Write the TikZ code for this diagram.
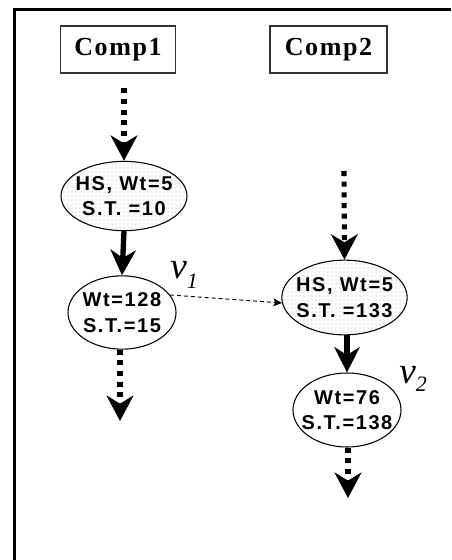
\documentclass[tikz,border=0pt]{standalone}
\usepackage{fontspec}
\setmainfont{Liberation Serif}
\newfontfamily\nodefont{Liberation Sans}[LetterSpace=8]
\newfontfamily\compfont{Liberation Serif}[LetterSpace=6]
\usetikzlibrary{arrows.meta,shapes.geometric,patterns}
% a centred text line that does not widen the ellipse around it
\newcommand{\ctext}[1]{\makebox[0pt]{#1}}
\begin{document}
\begin{tikzpicture}[x=0.75pt,y=-0.75pt,
  frame/.style={line width=2.6pt},
  compbox/.style={draw=black!80,line width=1.1pt,minimum width=86pt,minimum height=35pt,
    inner sep=0pt,font=\compfont\bfseries\fontsize{19.5}{20}\selectfont},
  task/.style={ellipse,draw,line width=0.8pt,inner sep=0pt,align=center,
    font=\nodefont\bfseries\fontsize{15}{19}\selectfont},
  hsnode/.style={task,pattern=dots,pattern color=black!30},
  plainnode/.style={task,fill=white},
  dotarrow/.style={line width=3.8pt,dash pattern=on 3.8pt off 4.2pt,
    -{Stealth[length=19pt,width=20pt,inset=6pt]}},
  solidarrow/.style={line width=4pt,-{Stealth[length=19pt,width=19pt,inset=6pt]}},
  thinarrow/.style={line width=0.7pt,dash pattern=on 3pt off 2.2pt,
    -{Stealth[length=6.5pt,width=6pt,inset=1.5pt]}},
  vlabel/.style={inner sep=0pt,anchor=base west,font=\itshape\fontsize{28}{28}\selectfont}]
\useasboundingbox (0,0) rectangle (451,560);

% outer frame: top and left edges only
\draw[frame] (451,9.5) -- (14.5,9.5) -- (14.5,560);

% component headers
\node[compbox] (comp1) at (118,49.5) {Comp1};
\node[compbox,minimum width=88pt] (comp2) at (328.5,49.5) {Comp2};

% tasks on Comp1
\node[hsnode,minimum width=94.5pt,minimum height=52pt] (e1) at (124,196)
  {\ctext{HS, Wt=5}\\\ctext{S.T. =10}};
\node[plainnode,minimum width=81pt,minimum height=55pt] (e2) at (122,312.5)
  {\ctext{Wt=128}\\\ctext{S.T.=15}};

% tasks on Comp2
\node[hsnode,minimum width=94pt,minimum height=56pt] (e3) at (344.5,297.5)
  {\ctext{HS, Wt=5}\\\ctext{S.T. =133}};
\node[plainnode,minimum width=81pt,minimum height=55.5pt] (e4) at (347,410)
  {\ctext{Wt=76}\\\ctext{S.T.=138}};

% free ends of the dotted connectors
\coordinate (in2) at (344,171);
\coordinate (out1) at (120,421);
\coordinate (out2) at (348,498);

% connectors
\draw[dotarrow,shorten <=11pt] (comp1.south -| e1.north) -- (e1.north);
\draw[dotarrow] (in2) -- (e3.north);
\draw[solidarrow] (e1.south) -- (e2.north);
\draw[solidarrow] (e3.south -| e4.north) -- (e4.north);
\draw[dotarrow] (e2.south -| out1) -- (out1);
\draw[dotarrow] (e4.south -| out2) -- (out2);
\draw[thinarrow] (e2.20) -- (e3.185);

% node labels
\node[vlabel] (v1) at (170,278) {v\raisebox{-7.5pt}{\fontsize{16.5}{17}\selectfont 1}};
\node[vlabel] (v2) at (399,383) {v\raisebox{-6.5pt}{\fontsize{16.5}{17}\selectfont 2}};
\end{tikzpicture}
\end{document}
